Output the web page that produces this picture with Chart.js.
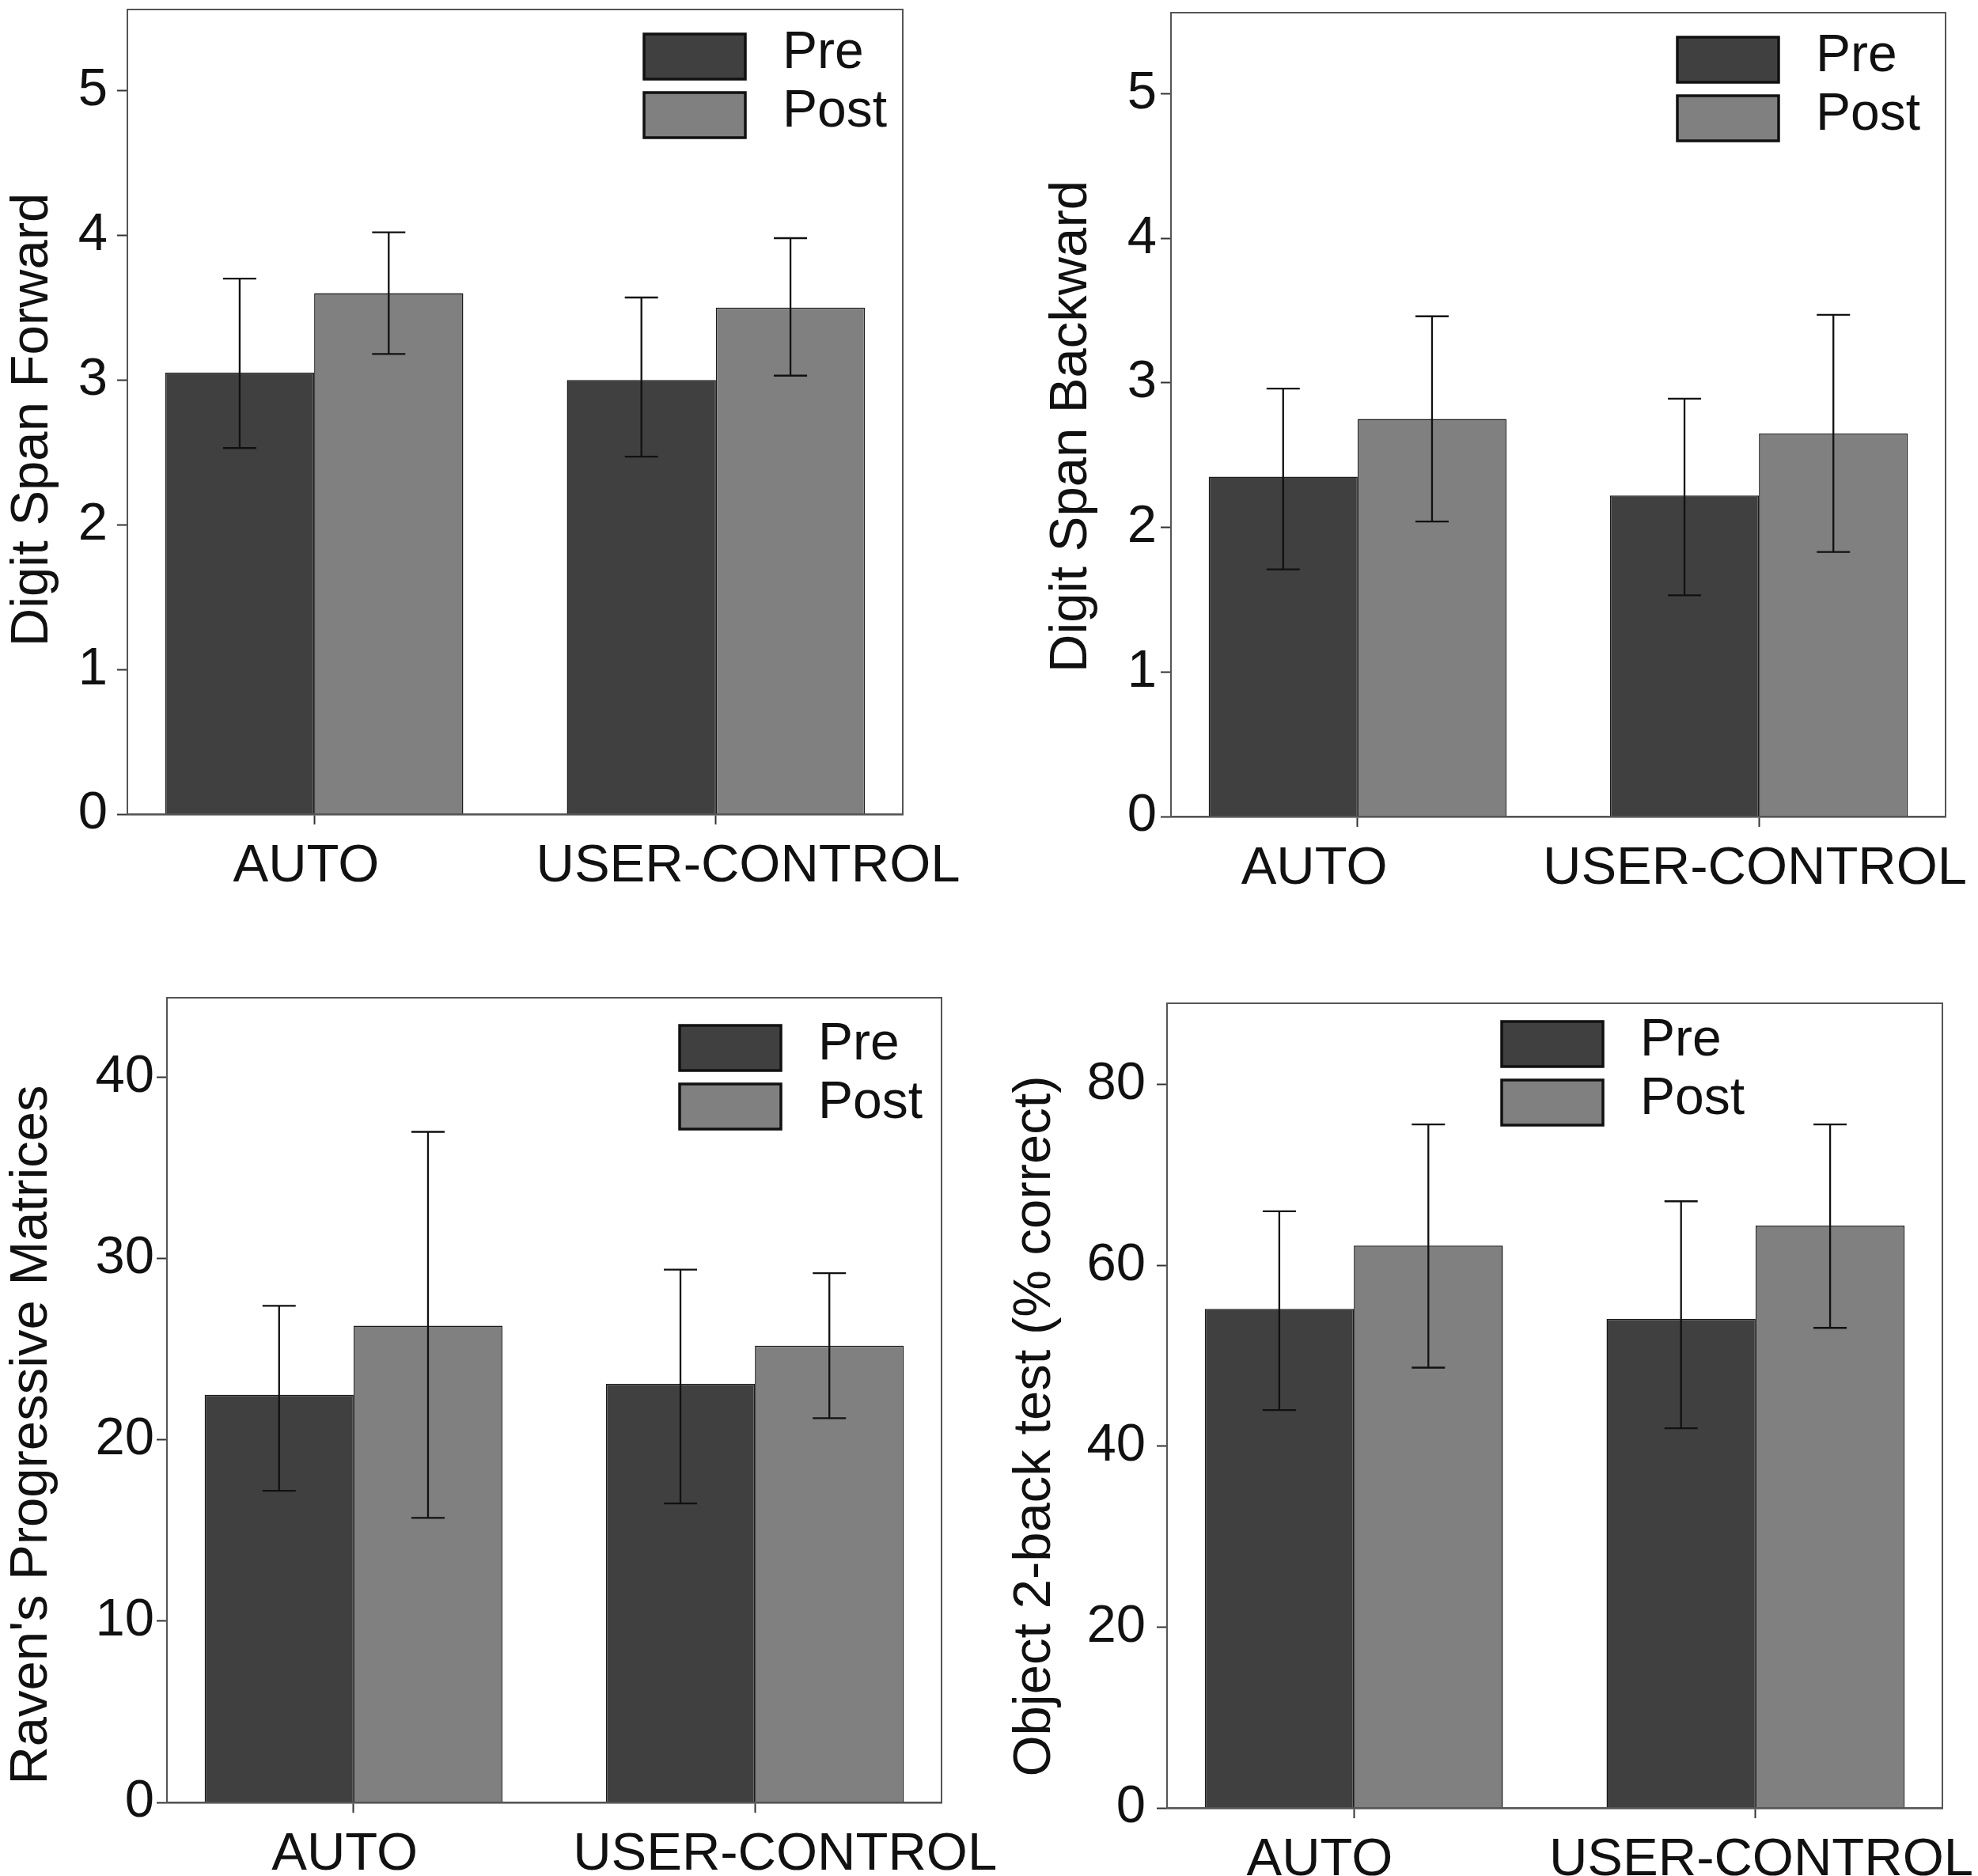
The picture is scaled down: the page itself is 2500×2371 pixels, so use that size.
<!DOCTYPE html>
<html>
<head>
<meta charset="utf-8">
<script src="https://cdn.jsdelivr.net/npm/chart.js@4.4.0/dist/chart.umd.min.js"></script>
<style>
    html, body { margin: 0; padding: 0; background: #fff; }
    body { width: 2500px; height: 2371px; position: relative; overflow: hidden; }
    canvas { position: absolute; }
</style>
</head>
<body>
<canvas id="c1"></canvas>
<canvas id="c2"></canvas>
<canvas id="c3"></canvas>
<canvas id="c4"></canvas>
<script>
const groups = ['AUTO', 'USER-CONTROL'];
const seriesNames = ['Pre', 'Post'];

// Digit Span Forward
const fwdPre = [3.05, 3.00];
const fwdPreLow = [2.53, 2.47];
const fwdPreHigh = [3.70, 3.57];
const fwdPost = [3.60, 3.50];
const fwdPostLow = [3.18, 3.03];
const fwdPostHigh = [4.02, 3.98];
const fwdTicks = [0, 1, 2, 3, 4, 5];

// Digit Span Backward
const bwdPre = [2.35, 2.22];
const bwdPreLow = [1.71, 1.53];
const bwdPreHigh = [2.96, 2.89];
const bwdPost = [2.75, 2.65];
const bwdPostLow = [2.04, 1.83];
const bwdPostHigh = [3.46, 3.47];
const bwdTicks = [0, 1, 2, 3, 4, 5];

// Raven's Progressive Matrices
const ravPre = [22.5, 23.1];
const ravPreLow = [17.2, 16.5];
const ravPreHigh = [27.4, 29.4];
const ravPost = [26.3, 25.2];
const ravPostLow = [15.7, 21.2];
const ravPostHigh = [37.0, 29.2];
const ravTicks = [0, 10, 20, 30, 40];

// Object 2-back test
const nbkPre = [55.2, 54.1];
const nbkPreLow = [44.0, 42.0];
const nbkPreHigh = [66.0, 67.1];
const nbkPost = [62.2, 64.4];
const nbkPostLow = [48.7, 53.1];
const nbkPostHigh = [75.6, 75.6];
const nbkTicks = [0, 20, 40, 60, 80];

const FONT = '"Liberation Sans", Arial, sans-serif';
const FS = 67;
const LEG_FS = 66;
Chart.defaults.font.family = FONT;
Chart.defaults.color = '#111';

// box around plot area
const frame = {
    id: 'frame',
    afterDraw(chart) {
        const a = chart.chartArea;
        const ctx = chart.ctx;
        ctx.save();
        ctx.strokeStyle = '#555';
        ctx.lineWidth = 2;
        ctx.strokeRect(a.left, a.top, a.right - a.left, a.bottom - a.top);
        ctx.restore();
    }
};

// error bars from dataset.low / dataset.high
const errorBars = {
    id: 'errorBars',
    afterDatasetsDraw(chart) {
        const ctx = chart.ctx;
        const y = chart.scales.y;
        ctx.save();
        ctx.strokeStyle = '#111';
        ctx.lineWidth = 2.3;
        chart.data.datasets.forEach((ds, i) => {
            chart.getDatasetMeta(i).data.forEach((bar, j) => {
                const yl = y.getPixelForValue(ds.low[j]);
                const yh = y.getPixelForValue(ds.high[j]);
                ctx.beginPath();
                ctx.moveTo(bar.x, yl);
                ctx.lineTo(bar.x, yh);
                ctx.moveTo(bar.x - 21, yl);
                ctx.lineTo(bar.x + 21, yl);
                ctx.moveTo(bar.x - 21, yh);
                ctx.lineTo(bar.x + 21, yh);
                ctx.stroke();
            });
        });
        ctx.restore();
    }
};

// legend drawn inside the plot, top right
const insideLegend = {
    id: 'insideLegend',
    afterDraw(chart, args, opts) {
        const a = chart.chartArea;
        const ctx = chart.ctx;
        const x0 = a.right - opts.fromRight;
        let y0 = a.top + opts.fromTop;
        chart.data.datasets.forEach(ds => {
            ctx.save();
            ctx.fillStyle = ds.backgroundColor;
            ctx.fillRect(x0, y0, 128, 57);
            ctx.lineWidth = 3.5;
            ctx.strokeStyle = '#111';
            ctx.strokeRect(x0, y0, 128, 57);
            ctx.fillStyle = '#111';
            ctx.font = LEG_FS + 'px ' + FONT;
            ctx.textBaseline = 'middle';
            ctx.fillText(ds.label, x0 + 175, y0 + 25);
            ctx.restore();
            y0 += 74;
        });
    }
};

function points(vals) {
    return vals.map((v, i) => ({ x: i, y: v }));
}

function makePanel(id, p, title, pre, preLow, preHigh, post, postLow, postHigh, ticks, yMax) {
    const cv = document.getElementById(id);
    cv.width = p.w;
    cv.height = p.h;
    cv.style.left = p.x + 'px';
    cv.style.top = p.y + 'px';
    cv.style.width = p.w + 'px';
    cv.style.height = p.h + 'px';
    const tickH = 13;
    const labelH = 87;
    const xMin = -0.465, xMax = 1.465;

    return new Chart(cv, {
        type: 'bar',
        data: {
            datasets: [{
                label: seriesNames[0],
                data: points(pre),
                low: preLow,
                high: preHigh,
                backgroundColor: '#404040',
                borderColor: '#1a1a1a',
                borderWidth: 1.5
            }, {
                label: seriesNames[1],
                data: points(post),
                low: postLow,
                high: postHigh,
                backgroundColor: '#808080',
                borderColor: '#1a1a1a',
                borderWidth: 1.5
            }]
        },
        options: {
            responsive: false,
            animation: false,
            devicePixelRatio: 1,
            layout: {
                padding: {
                    left: p.padLeft,
                    top: p.top,
                    right: p.w - p.right,
                    bottom: p.h - p.bottom - tickH - labelH
                }
            },
            datasets: {
                bar: { categoryPercentage: 0.742, barPercentage: 1.0 }
            },
            plugins: {
                legend: { display: false },
                tooltip: { enabled: false },
                insideLegend: { fromRight: p.legRight, fromTop: p.legTop }
            },
            scales: {
                // tick marks under each group
                x: {
                    type: 'linear',
                    position: 'bottom',
                    weight: 0,
                    min: xMin,
                    max: xMax,
                    offset: false,
                    grid: { offset: false, drawOnChartArea: false, drawTicks: true, tickLength: tickH, tickWidth: 2, tickColor: '#333' },
                    border: { display: true, color: '#333', width: 2.5 },
                    ticks: { display: false },
                    afterBuildTicks: s => { s.ticks = groups.map((g, i) => ({ value: i })); },
                    afterFit: s => { s.height = tickH; s.paddingLeft = 0; s.paddingRight = 0; }
                },
                // group names
                x2: {
                    type: 'linear',
                    position: 'bottom',
                    weight: 1,
                    min: xMin,
                    max: xMax,
                    offset: false,
                    grid: { display: false },
                    border: { display: false },
                    ticks: {
                        font: { size: FS }, padding: 5, color: '#111', maxRotation: 0, autoSkip: false,
                        callback: (v, i) => groups[i]
                    },
                    afterBuildTicks: s => { s.ticks = groups.map((g, i) => ({ value: i + p.labelShift[i] })); },
                    afterFit: s => { s.height = labelH; s.paddingLeft = 0; s.paddingRight = 0; }
                },
                y: {
                    min: 0,
                    max: yMax,
                    grid: { drawOnChartArea: false, drawTicks: true, tickLength: 13, tickWidth: 2, tickColor: '#333' },
                    border: { display: true, color: '#555', width: 2 },
                    ticks: { font: { size: FS }, padding: p.yPad, color: '#111' },
                    title: { display: true, text: title, font: { size: FS }, color: '#111', padding: { top: p.titlePad, bottom: 0 } },
                    afterBuildTicks: s => { s.ticks = ticks.map(v => ({ value: v })); },
                    afterFit: s => {
                        s.width = p.left - p.padLeft;
                        s.paddingTop = 0;
                        s.paddingBottom = 0;
                        // the title sits a little below the middle of the axis
                        if (!s.titleMoved) {
                            const drawTitle = s.drawTitle;
                            s.drawTitle = function () {
                                this.ctx.save();
                                this.ctx.translate(0, p.titleShift);
                                drawTitle.call(this);
                                this.ctx.restore();
                            };
                            s.titleMoved = true;
                        }
                    }
                }
            }
        },
        plugins: [frame, errorBars, insideLegend]
    });
}

makePanel('c1', { x: 0, y: 0, w: 1300, h: 1180, left: 161, top: 12, right: 1141, bottom: 1029,
    padLeft: 0, titlePad: 1, titleShift: 10, yPad: 12, legRight: 327, legTop: 31, labelShift: [-0.020, 0.080] },
    'Digit Span Forward', fwdPre, fwdPreLow, fwdPreHigh, fwdPost, fwdPostLow, fwdPostHigh, fwdTicks, 5.56);

makePanel('c2', { x: 1250, y: 0, w: 1250, h: 1180, left: 230, top: 16, right: 1209, bottom: 1032,
    padLeft: 63, titlePad: 1, titleShift: 15, yPad: 5, legRight: 339, legTop: 31, labelShift: [-0.108, -0.010] },
    'Digit Span Backward', bwdPre, bwdPreLow, bwdPreHigh, bwdPost, bwdPostLow, bwdPostHigh, bwdTicks, 5.56);

makePanel('c3', { x: 0, y: 1200, w: 1320, h: 1171, left: 211, top: 61, right: 1190, bottom: 1078,
    padLeft: 0, titlePad: 0, titleShift: 44, yPad: 3, legRight: 331, legTop: 35, labelShift: [-0.022, 0.075] },
    "Raven's Progressive Matrices", ravPre, ravPreLow, ravPreHigh, ravPost, ravPostLow, ravPostHigh, ravTicks, 44.4);

makePanel('c4', { x: 1250, y: 1200, w: 1250, h: 1171, left: 225, top: 68, right: 1205, bottom: 1085,
    padLeft: 17, titlePad: 1, titleShift: 26, yPad: 14, legRight: 557, legTop: 23, labelShift: [-0.085, 0.014] },
    'Object 2-back test (% correct)', nbkPre, nbkPreLow, nbkPreHigh, nbkPost, nbkPostLow, nbkPostHigh, nbkTicks, 89);
</script>
</body>
</html>
